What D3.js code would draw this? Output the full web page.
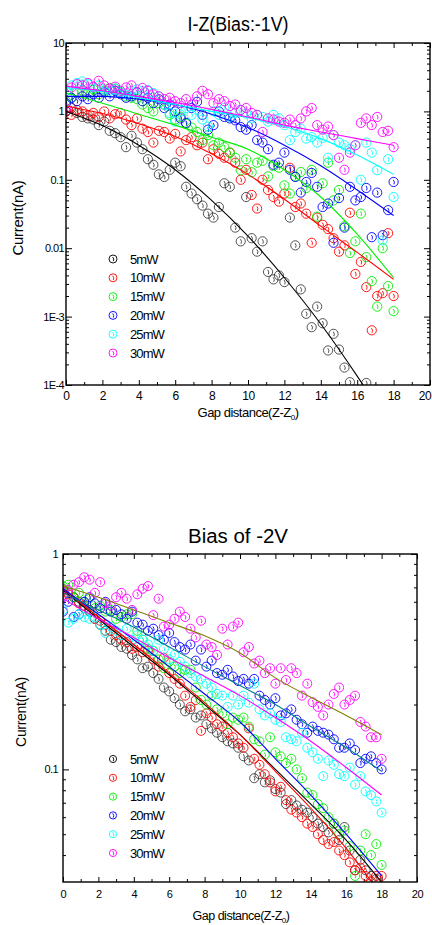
<!DOCTYPE html>
<html><head><meta charset="utf-8">
<script src="https://cdn.jsdelivr.net/npm/d3@7"></script>
<style>
html,body{margin:0;padding:0;background:#fff;}
svg{display:block;font-family:"Liberation Sans",Arial,sans-serif;}
</style></head>
<body><svg id="c" width="432" height="925"></svg>
<script>
// ---------- DATA ----------
const seriesNames = ["5mW","10mW","15mW","20mW","25mW","30mW"];
const seriesColors = ["#000000","#ff0000","#00ee00","#0000ff","#00ffff","#ff00ff"];
const gapDistance = [0,0.3,0.6,0.9,1.2,1.5,1.8,2.1,2.4,2.7,3,3.3,3.6,3.9,4.2,4.5,4.8,5.1,5.4,5.7,6,6.3,6.6,6.9,7.2,7.5,7.8,8.1,8.4,8.7,9,9.3,9.6,9.9,10.2,10.5,10.8,11.1,11.4,11.7,12,12.3,12.6,12.9,13.2,13.5,13.8,14.1,14.4,14.7,15,15.3,15.6,15.9,16.2,16.5,16.8,17.1,17.4,17.7,18];
const fitGap = [0,2,4,6,8,10,12,14,16,18];

// Top chart: I-Z (Bias -1V), current in nA
const top5mW  = [1.0,1.12,0.95,0.83,0.79,0.76,0.63,0.71,0.52,0.48,0.42,0.30,0.44,0.35,0.28,0.2,0.166,0.12,0.11,0.14,0.178,0.158,0.079,0.063,0.052,0.042,0.032,0.028,0.04,0.089,0.079,0.02,0.0126,0.056,0.014,0.0089,0.0126,0.0045,0.0035,0.004,0.0032,0.028,0.011,0.0025,0.0011,0.0007,0.0014,0.0008,0.00032,0.00056,0.00033,0.00018,0.00011,null,null,0.000107,null,null,null,null,null];
const top10mW = [1.0,0.89,1.05,1.0,0.87,0.95,0.83,1.0,0.79,0.91,0.95,0.76,0.63,0.79,0.56,0.5,0.35,0.52,0.5,0.4,0.47,0.26,0.38,0.42,0.32,0.35,0.2,0.28,0.24,0.21,0.25,0.178,0.1,0.14,0.06,0.038,0.1,0.071,0.056,0.048,0.063,0.15,0.04,0.045,0.032,0.012,0.028,0.022,0.019,0.014,0.0089,0.011,0.033,0.0042,0.0063,0.0027,0.00063,0.002,0.0022,0.0166,0.002];
const top15mW = [1.41,1.58,1.9,2.0,1.82,2.1,1.78,2.0,2.2,2.15,1.9,1.66,1.58,1.51,1.26,1.12,1.0,1.32,1.26,0.89,0.76,0.83,0.66,0.58,0.5,0.38,0.45,0.32,0.35,0.3,0.25,0.21,0.138,0.2,0.129,0.178,0.19,0.112,0.158,0.15,0.083,0.063,0.112,0.13,0.076,0.14,0.029,0.089,0.178,0.05,0.071,0.021,0.0085,0.0126,0.032,0.0074,0.0033,0.0014,0.01,0.0028,0.0012];
const top20mW = [1.32,1.58,1.41,1.66,1.51,1.78,1.58,1.9,1.66,2.0,1.78,1.58,1.66,1.9,1.41,1.58,1.32,1.51,1.12,1.26,1.0,0.79,0.68,1.12,1.38,0.89,0.54,0.63,1.0,0.83,0.79,0.74,0.59,0.54,0.63,0.38,0.35,0.28,0.166,0.178,0.25,0.14,0.11,0.065,0.093,0.126,0.079,0.04,0.045,0.012,0.054,0.02,0.079,0.05,0.056,0.076,0.0145,0.065,0.0155,0.036,0.093];
const top25mW = [2.0,2.4,2.6,2.75,2.5,2.24,2.4,2.1,2.0,2.15,1.9,1.78,2.0,2.1,2.0,2.05,1.86,1.66,1.26,0.95,0.71,1.0,1.12,0.89,1.05,0.76,0.6,1.0,0.89,1.12,0.83,0.95,1.05,0.93,0.79,0.89,0.83,0.71,0.89,0.79,0.63,0.38,0.5,0.56,0.4,0.42,0.35,0.41,0.21,0.45,0.35,0.32,0.28,0.32,0.1,0.35,0.25,0.138,0.013,0.2,0.056];
const top30mW = [1.1,2.24,2.5,2.4,2.6,2.3,2.8,2.4,2.15,2.3,2.0,2.24,2.4,1.9,2.2,2.0,1.78,1.66,1.51,1.58,1.41,1.32,1.51,1.26,1.66,2.0,1.78,1.32,1.51,1.41,1.2,1.26,1.05,1.12,0.95,0.89,0.5,0.79,0.76,0.71,0.68,0.76,0.63,0.79,1.0,1.12,0.63,0.54,0.6,0.45,0.21,0.14,0.25,0.32,0.68,0.79,0.63,0.83,0.5,0.52,0.3];
// fitted curves (values at fitGap)
const topFit5mW  = [1.0,0.62,0.32,0.14,0.05,0.015,0.0037,0.00078,0.000135,0.00002];
const topFit10mW = [1.2,0.93,0.66,0.43,0.24,0.12,0.052,0.021,0.0087,0.0035];
const topFit15mW = [1.86,1.32,0.91,0.63,0.42,0.28,0.14,0.056,0.016,0.0037];
const topFit20mW = [1.66,1.66,1.51,1.26,0.91,0.58,0.32,0.16,0.071,0.03];
const topFit25mW = [2.24,1.95,1.58,1.26,1.0,0.81,0.6,0.4,0.23,0.12];
const topFit30mW = [2.34,2.0,1.66,1.35,1.07,0.83,0.63,0.5,0.4,0.32];
const topYTicks = [10,1,0.1,0.01,0.001,0.0001];
const topYLabels = ["10","1","0.1","0.01","1E-3","1E-4"];

// Bottom chart: Bias of -2V
const bot5mW  = [0.69,0.66,0.63,0.6,0.56,0.54,0.5,0.47,0.44,0.4,0.39,0.37,0.363,0.34,0.324,0.295,0.3,0.28,0.263,0.24,0.23,0.214,0.2,0.186,0.19,0.174,0.178,0.162,0.155,0.148,0.141,0.135,0.132,0.126,0.115,0.11,0.091,0.095,0.087,0.089,0.081,0.078,0.069,0.072,0.068,0.065,0.063,0.06,0.056,0.054,0.051,0.056,0.047,0.054,0.042,0.034,0.038,0.034,0.032,0.031,null];
const bot10mW = [0.68,0.65,0.63,0.59,0.575,0.55,0.5,0.49,0.47,0.44,0.42,0.4,0.39,0.363,0.37,0.35,0.355,0.324,0.3,0.33,0.28,0.263,0.25,0.22,0.195,0.21,0.151,0.182,0.174,0.162,0.158,0.148,0.141,0.132,0.126,0.155,0.112,0.105,0.095,0.087,0.079,0.083,0.072,0.065,0.063,0.06,0.056,0.054,0.05,0.047,0.045,0.046,0.042,0.04,0.037,0.034,0.035,0.032,0.0302,0.032,0.032];
const bot15mW = [0.71,0.72,0.63,0.66,0.6,0.62,0.56,0.575,0.54,0.55,0.5,0.51,0.525,0.525,0.44,0.4,0.363,0.355,0.324,0.295,0.316,0.3,0.28,0.29,0.29,0.24,0.21,0.2,0.22,0.19,0.182,0.162,0.174,0.17,0.174,0.158,0.138,0.135,0.117,0.141,0.12,0.115,0.107,0.112,0.1,0.091,0.078,0.076,0.069,0.066,0.06,0.056,0.05,0.052,0.044,0.032,0.042,0.05,0.04,0.045,0.036];
const bot20mW = [0.54,0.6,0.51,0.525,0.6,0.63,0.59,0.56,0.6,0.54,0.55,0.525,0.5,0.54,0.48,0.47,0.44,0.45,0.42,0.4,0.43,0.39,0.37,0.36,0.38,0.32,0.36,0.3,0.32,0.28,0.275,0.29,0.27,0.257,0.263,0.25,0.263,0.22,0.21,0.2,0.214,0.178,0.182,0.19,0.17,0.162,0.148,0.158,0.151,0.148,0.145,0.138,0.126,0.126,0.132,0.123,0.107,0.112,0.115,0.107,0.1];
const bot25mW = [0.55,0.48,0.5,0.525,0.51,0.5,0.51,0.47,0.43,0.46,0.44,0.42,0.45,0.4,0.42,0.4,0.38,0.355,0.4,0.363,0.324,0.34,0.316,0.3,0.28,0.27,0.263,0.25,0.24,0.224,0.22,0.195,0.22,0.2,0.22,0.204,0.25,0.19,0.178,0.182,0.17,0.166,0.141,0.138,0.135,0.148,0.126,0.12,0.112,0.093,0.11,0.105,0.095,0.093,0.102,0.085,0.093,0.079,0.076,0.071,0.063];
const bot30mW = [0.63,0.68,0.72,0.74,0.78,0.76,0.66,0.74,0.59,0.575,0.63,0.66,0.62,0.55,0.65,0.69,0.71,0.52,0.62,0.46,0.47,0.5,0.54,0.51,0.45,0.41,0.49,0.38,0.37,0.34,0.45,0.38,0.46,0.48,0.35,0.37,0.31,0.32,0.28,0.295,0.25,0.295,0.26,0.295,0.28,0.22,0.25,0.205,0.195,0.178,0.2,0.224,0.24,0.2,0.21,0.22,0.166,0.158,0.141,0.141,0.112];
const botFit5mW  = [0.68,0.5,0.37,0.275,0.2,0.145,0.1,0.069,0.047,0.030];
const botFit10mW = [0.69,0.51,0.38,0.28,0.204,0.145,0.098,0.066,0.043,0.026];
const botFit15mW = [0.69,0.525,0.4,0.3,0.224,0.166,0.112,0.076,0.05,0.032];
const botFit20mW = [0.66,0.55,0.457,0.37,0.3,0.245,0.2,0.158,0.126,0.098];
const botFit25mW = [0.62,0.5,0.41,0.33,0.27,0.22,0.174,0.135,0.102,0.076];
const botFit30mW = [0.71,0.63,0.55,0.48,0.417,0.347,0.266,0.216,0.178,0.145];
const botFitColors = ["#000000","#ff0000","#0000ff","#008080","#ff00ff","#808000"];
const botYTicks = [1,0.1];
const botYLabels = ["1","0.1"];
const xTickValues = [0,2,4,6,8,10,12,14,16,18,20];

// ---------- DRAW ----------
const svg = d3.select("#c");
const W = 432;

function drawChart(cfg){
  const g = svg.append("g");
  const x = d3.scaleLinear().domain([0,20]).range([cfg.left,cfg.right]);
  const y = d3.scaleLog().domain(cfg.yDomain).range([cfg.bottom,cfg.top]);
  const clipId = "clip"+cfg.id;
  svg.append("clipPath").attr("id",clipId).append("rect")
    .attr("x",cfg.left).attr("y",cfg.top).attr("width",cfg.right-cfg.left).attr("height",cfg.bottom-cfg.top);

  const minorX = d3.range(0,21,1).filter(v=>v%2!==0);
  const lo = Math.log10(cfg.yDomain[0]), hi = Math.log10(cfg.yDomain[1]);
  const minorY = [];
  for(let e=Math.floor(lo); e<hi; e++){ for(let m=2;m<=9;m++){ const v=m*Math.pow(10,e); if(v>cfg.yDomain[0]*1.001 && v<cfg.yDomain[1]) minorY.push(v);} }

  const axStyle = sel => { sel.select(".domain").remove(); sel.selectAll("line").attr("stroke","#000").attr("stroke-width",1); sel.selectAll("text").attr("fill","#000").style("font-family","'Liberation Sans',Arial,sans-serif"); };

  const xb = g.append("g").attr("transform",`translate(0,${cfg.bottom})`)
    .call(d3.axisBottom(x).tickValues(xTickValues).tickFormat(d3.format("d")).tickSizeInner(-5).tickSizeOuter(0).tickPadding(cfg.xPad))
    .call(axStyle);
  xb.selectAll("text").attr("font-size",cfg.xTickFont).attr("letter-spacing","-0.3");
  // keep the last tick label inside the page
  xb.selectAll("text").filter(d=>d===20 && x(20)+8>W).attr("text-anchor","end").attr("x",W-1-x(20));
  g.append("g").attr("transform",`translate(0,${cfg.bottom})`)
    .call(d3.axisBottom(x).tickValues(minorX).tickFormat("").tickSizeInner(-3).tickSizeOuter(0)).call(axStyle);
  g.append("g").attr("transform",`translate(0,${cfg.top})`)
    .call(d3.axisTop(x).tickValues(xTickValues).tickFormat("").tickSizeInner(-5).tickSizeOuter(0)).call(axStyle);
  g.append("g").attr("transform",`translate(0,${cfg.top})`)
    .call(d3.axisTop(x).tickValues(minorX).tickFormat("").tickSizeInner(-3).tickSizeOuter(0)).call(axStyle);

  g.append("g").attr("transform",`translate(${cfg.left},0)`)
    .call(d3.axisLeft(y).tickValues(cfg.yTicks).tickFormat((d,i)=>cfg.yLabels[i]).tickSizeInner(-6).tickSizeOuter(0).tickPadding(cfg.yPad))
    .call(axStyle).selectAll("text").attr("font-size",cfg.yTickFont).attr("letter-spacing","-0.6");
  g.append("g").attr("transform",`translate(${cfg.left},0)`)
    .call(d3.axisLeft(y).tickValues(minorY).tickFormat("").tickSizeInner(-3).tickSizeOuter(0)).call(axStyle);
  g.append("g").attr("transform",`translate(${cfg.right},0)`)
    .call(d3.axisRight(y).tickValues(cfg.yTicks).tickFormat("").tickSizeInner(-6).tickSizeOuter(0)).call(axStyle);
  g.append("g").attr("transform",`translate(${cfg.right},0)`)
    .call(d3.axisRight(y).tickValues(minorY).tickFormat("").tickSizeInner(-3).tickSizeOuter(0)).call(axStyle);

  // points
  const plot = g.append("g").attr("clip-path",`url(#${clipId})`);
  cfg.series.forEach((vals,si)=>{
    const col = seriesColors[si];
    const pts = gapDistance.map((gx,i)=>[gx,vals[i]]).filter(p=>p[1]!=null);
    const mk = plot.append("g").selectAll("g").data(pts).join("g")
      .attr("transform",p=>`translate(${x(p[0])},${y(p[1])})`)
      .attr("fill","none").attr("stroke",col).attr("stroke-width",0.9).attr("opacity",si===0?0.75:1);
    mk.append("circle").attr("r",cfg.r);
    mk.append("path").attr("d","M-0.3,-2.2 Q1.6,0 0.3,2.4");
  });
  // fit lines
  const line = d3.line().x(d=>x(d[0])).y(d=>y(d[1])).curve(d3.curveMonotoneX);
  cfg.fits.forEach((vals,si)=>{
    plot.append("path").datum(fitGap.map((gx,i)=>[gx,vals[i]]))
      .attr("d",line).attr("fill","none").attr("stroke",cfg.fitColors[si]).attr("stroke-width",1.1);
  });

  // frame
  g.append("rect").attr("x",cfg.left).attr("y",cfg.top).attr("width",cfg.right-cfg.left).attr("height",cfg.bottom-cfg.top)
    .attr("fill","none").attr("stroke","#000").attr("stroke-width",1.4);

  // title
  g.append("text").attr("x",cfg.titleX).attr("y",cfg.titleY).attr("text-anchor","middle")
    .attr("font-size",20).attr("textLength",cfg.titleLen).attr("lengthAdjust","spacingAndGlyphs").text(cfg.title);
  // y label
  g.append("text").attr("transform",`translate(${cfg.yLabX},${cfg.yLabY}) rotate(-90)`).attr("text-anchor","middle")
    .attr("font-size",cfg.yLabFont).attr("letter-spacing","-0.3").text("Current(nA)");
  // x label
  const xl = g.append("text").attr("x",cfg.xLabX).attr("y",cfg.xLabY).attr("text-anchor","middle")
    .attr("font-size",cfg.xLabFont).attr("letter-spacing","-0.5");
  xl.append("tspan").text("Gap distance(Z-Z");
  xl.append("tspan").attr("font-size",8).attr("dy",3).text("0");
  xl.append("tspan").attr("dy",-3).text(")");

  // legend
  const lg = g.append("g");
  seriesNames.forEach((n,i)=>{
    const yy = cfg.legY + i*cfg.legStep;
    const m = lg.append("g").attr("transform",`translate(${cfg.legX},${yy})`).attr("fill","none").attr("stroke",seriesColors[i]).attr("stroke-width",0.9);
    m.append("circle").attr("r",cfg.legR);
    m.append("path").attr("d","M-0.3,-2 Q1.5,0 0.3,2.2");
    lg.append("text").attr("x",cfg.legX+17).attr("y",yy+4.5).attr("font-size",13).attr("letter-spacing","-0.9").text(n);
  });
}

drawChart({
  id:"top", left:66, right:430, top:43, bottom:385, yDomain:[1e-4,10],
  yTicks:topYTicks, yLabels:topYLabels, xPad:6, yPad:2, xTickFont:12, yTickFont:11,
  series:[top5mW,top10mW,top15mW,top20mW,top25mW,top30mW],
  fits:[topFit5mW,topFit10mW,topFit15mW,topFit20mW,topFit25mW,topFit30mW],
  fitColors:seriesColors, r:4.6,
  title:"I-Z(Bias:-1V)", titleX:238, titleY:31, titleLen:101,
  yLabX:23, yLabY:218, yLabFont:15, xLabX:248, xLabY:417, xLabFont:13,
  legX:113, legY:259, legStep:18.8, legR:4
});
drawChart({
  id:"bot", left:63, right:417, top:554, bottom:882, yDomain:[0.03,1],
  yTicks:botYTicks, yLabels:botYLabels, xPad:8, yPad:5, xTickFont:11, yTickFont:11,
  series:[bot5mW,bot10mW,bot15mW,bot20mW,bot25mW,bot30mW],
  fits:[botFit5mW,botFit10mW,botFit15mW,botFit20mW,botFit25mW,botFit30mW],
  fitColors:botFitColors, r:4.5,
  title:"Bias of -2V", titleX:238, titleY:543, titleLen:100,
  yLabX:26, yLabY:712, yLabFont:14, xLabX:241, xLabY:920, xLabFont:12.5,
  legX:113, legY:759, legStep:18.8, legR:3.6
});
</script>
</body></html>
